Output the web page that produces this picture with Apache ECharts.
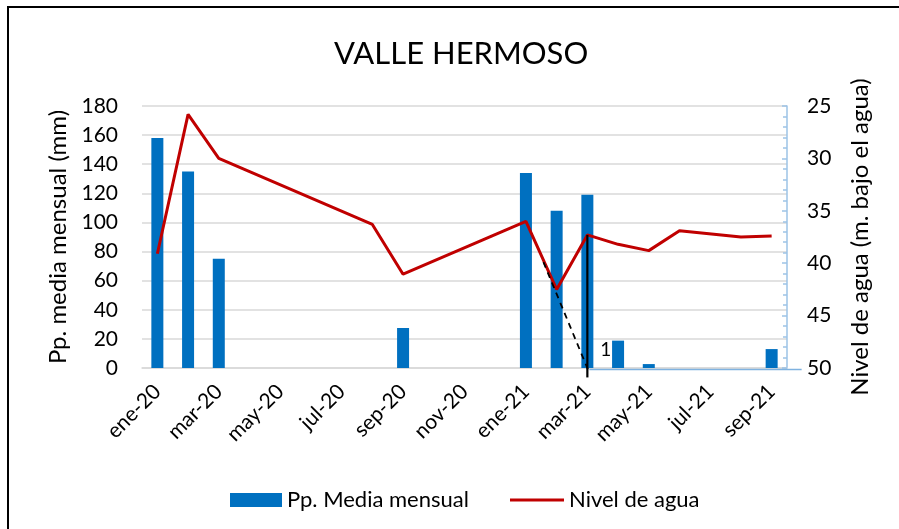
<!DOCTYPE html>
<html>
<head>
<meta charset="utf-8">
<script src="https://cdn.jsdelivr.net/npm/echarts@6/dist/echarts.min.js"></script>
<style>html,body{margin:0;padding:0;background:#fff}#c{width:899px;height:529px}</style>
</head>
<body>
<div id="c"></div>
<script>
var categories = ['ene-20','feb-20','mar-20','abr-20','may-20','jun-20','jul-20','ago-20','sep-20','oct-20','nov-20','dic-20',
                  'ene-21','feb-21','mar-21','abr-21','may-21','jun-21','jul-21','ago-21','sep-21'];
var precipitation = [158, 135, 75, 0, 0, 0, 0, 0, 27.5, 0, 0, 0, 134, 108, 119, 18.8, 2.7, 0, 0, 0, 13];
var waterLevel = [39.1, 25.8, 30.0, null, null, null, null, 36.3, 41.05, null, null, null, 36.0, 42.5, 37.3, 38.2, 38.8, 36.9, null, 37.5, 37.4];
var leftTicks = {min: 0, max: 180, interval: 20};
var rightTicks = {min: 25, max: 50, interval: 5};
// annotation (category index, water level)
var dashedAnnot = [[12.57, 39.9], [14.07, 50.5]];
var solidAnnot = [[14, 37.3], [14, 50.9]];
var annotLabel = {text: '1', at: [14.6, 48.3]};

var FONT = 'Lato';
var chart = echarts.init(document.getElementById('c'));
chart.setOption({
  animation: false,
  textStyle: {fontFamily: FONT},
  title: {text: 'VALLE HERMOSO', left: 329, top: 33,
    textStyle: {fontFamily: FONT, fontSize: 31, fontWeight: 'normal', color: '#000'}},
  legend: [
    {left: 225, top: 484, itemWidth: 52, itemHeight: 14, icon: 'rect',
     textStyle: {fontFamily: FONT, fontSize: 22, color: '#000'}, data: ['Pp. Media mensual']},
    {left: 505, top: 484, itemWidth: 54, itemHeight: 3, icon: 'rect',
     textStyle: {fontFamily: FONT, fontSize: 22, color: '#000'}, data: ['Nivel de agua']}
  ],
  grid: {left: 142, right: 112, top: 106, bottom: 161},
  xAxis: {type: 'category', data: categories, boundaryGap: true,
    axisLine: {lineStyle: {color: '#D9D9D9', width: 1.5}},
    axisTick: {show: false},
    axisLabel: {interval: 1, rotate: 45, fontSize: 21, color: '#000', margin: 20, fontFamily: FONT}},
  yAxis: [
    {type: 'value', min: leftTicks.min, max: leftTicks.max, interval: leftTicks.interval,
     name: 'Pp. media mensual (mm)', nameLocation: 'middle', nameGap: 70, nameRotate: 90,
     nameTextStyle: {fontSize: 24, color: '#000', fontFamily: FONT},
     axisLine: {show: false}, axisTick: {show: false},
     axisLabel: {fontSize: 21, color: '#000', margin: 24, fontFamily: FONT},
     splitLine: {lineStyle: {color: '#D9D9D9', width: 1.5}}},
    {type: 'value', min: rightTicks.min, max: rightTicks.max, interval: rightTicks.interval, inverse: true,
     name: 'Nivel de agua (m. bajo el agua)', nameLocation: 'middle', nameGap: 61, nameRotate: 90,
     nameTextStyle: {fontSize: 24, color: '#000', fontFamily: FONT},
     axisLine: {show: true, lineStyle: {color: '#9DC3E6', width: 1.5}},
     axisTick: {show: true, inside: true, length: 5, lineStyle: {color: '#9DC3E6', width: 1.5}},
     minorTick: {show: true, splitNumber: 5, length: 4, lineStyle: {color: '#9DC3E6', width: 1.5}},
     axisLabel: {fontSize: 21, color: '#000', margin: 20, fontFamily: FONT},
     splitLine: {show: false}}
  ],
  series: [
    {name: 'Pp. Media mensual', type: 'bar', data: precipitation, barWidth: 12,
     itemStyle: {color: '#0070C0'}},
    {name: 'Nivel de agua', type: 'line', yAxisIndex: 1, data: waterLevel, connectNulls: true,
     symbol: 'none', lineStyle: {color: '#C00000', width: 3}, itemStyle: {color: '#C00000'}}
  ]
});

function px(pt) {
  var p0 = chart.convertToPixel({xAxisIndex: 0, yAxisIndex: 1}, [0, pt[1]]);
  var p1 = chart.convertToPixel({xAxisIndex: 0, yAxisIndex: 1}, [1, pt[1]]);
  return [p0[0] + (p1[0] - p0[0]) * pt[0], p0[1]];
}
var d0 = px(dashedAnnot[0]), d1 = px(dashedAnnot[1]);
var s0 = px(solidAnnot[0]), s1 = px(solidAnnot[1]);
var lp = px(annotLabel.at);
var zeroY = chart.convertToPixel({yAxisIndex: 0}, 0);
var rightX = chart.convertToPixel({xAxisIndex: 0}, categories.length - 1) + 16;
chart.setOption({
  graphic: [
    {type: 'rect', z: 100, shape: {x: 8, y: 7, width: 1000, height: 1000}, style: {fill: 'none', stroke: '#000', lineWidth: 2}, silent: true},
    {type: 'line', z: 100, shape: {x1: s0[0] + 2, y1: zeroY + 1.5, x2: rightX + 14, y2: zeroY + 1.5}, style: {stroke: '#7FB2E0', lineWidth: 1.5}},
    {type: 'line', z: 100, shape: {x1: d0[0], y1: d0[1], x2: d1[0], y2: d1[1]}, style: {stroke: '#000', lineWidth: 1.8, lineDash: [6, 5]}},
    {type: 'line', z: 100, shape: {x1: s0[0], y1: s0[1], x2: s1[0], y2: s1[1]}, style: {stroke: '#000', lineWidth: 2.2}},
    {type: 'text', z: 100, x: lp[0], y: lp[1], style: {text: annotLabel.text, fontSize: 19, fontFamily: FONT, fill: '#000', align: 'center', verticalAlign: 'middle'}}
  ]
});
</script>
</body>
</html>
